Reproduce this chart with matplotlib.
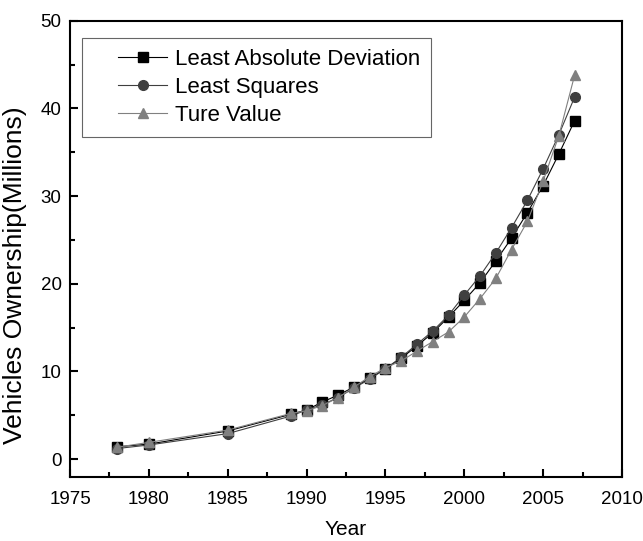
import matplotlib
matplotlib.use("Agg")
import matplotlib.pyplot as plt
from matplotlib.ticker import MultipleLocator
from matplotlib.legend_handler import HandlerLine2D

plt.rcParams['font.family'] = ['Liberation Sans', 'DejaVu Sans']

years = [1978, 1980, 1985, 1989, 1990, 1991, 1992, 1993, 1994, 1995, 1996,
         1997, 1998, 1999, 2000, 2001, 2002, 2003, 2004, 2005, 2006, 2007]
lad = [1.4, 1.7, 3.2, 5.1, 5.6, 6.5, 7.3, 8.2, 9.2, 10.3, 11.5,
       12.9, 14.4, 16.2, 18.1, 20.1, 22.6, 25.2, 28.1, 31.2, 34.8, 38.6]
ls = [1.2, 1.6, 2.9, 4.9, 5.6, 6.2, 7.0, 8.1, 9.1, 10.3, 11.6,
      13.1, 14.6, 16.4, 18.7, 20.9, 23.5, 26.4, 29.5, 33.1, 37.0, 41.3]
true = [1.35, 1.9, 3.3, 5.2, 5.5, 6.1, 7.0, 8.2, 9.4, 10.4, 11.2,
        12.3, 13.4, 14.5, 16.2, 18.3, 20.6, 23.9, 27.1, 31.7, 36.9, 43.8]

labels = ["Least Absolute Deviation", "Least Squares", "Ture Value"]

fig = plt.figure(figsize=(6.43, 5.41), dpi=100)
ax = fig.add_axes([0.1089, 0.1183, 0.8584, 0.8434])

ax.plot(years, lad, color='black', marker='s', markersize=6.5, linewidth=0.8,
        label=labels[0], zorder=3)
ax.plot(years, ls, color='#3f3f3f', marker='o', markersize=7, linewidth=0.8,
        label=labels[1], zorder=4)
ax.plot(years, true, color='#808080', marker='^', markersize=7.5, linewidth=0.8,
        label=labels[2], zorder=5)

ax.set_xlim(1975, 2010)
ax.set_ylim(-2.05, 50)
ax.xaxis.set_major_locator(MultipleLocator(5))
ax.xaxis.set_minor_locator(MultipleLocator(2.5))
ax.yaxis.set_major_locator(MultipleLocator(10))
ax.yaxis.set_minor_locator(MultipleLocator(5))
ax.tick_params(which='both', direction='in', top=False, right=False,
               width=1.5, labelsize=13.5)
ax.tick_params(which='major', length=6)
ax.tick_params(which='minor', length=3.5)
ax.tick_params(axis='x', pad=10)
ax.tick_params(axis='y', pad=6)
for s in ax.spines.values():
    s.set_linewidth(1.5)

ax.set_xlabel("Year", fontsize=15, labelpad=9)
ax.set_ylabel("Vehicles Ownership(Millions)", fontsize=19)
ax.yaxis.set_label_coords(-0.078, 0.443)

hmap = {h: HandlerLine2D(xpad=1.13) for h in ax.get_lines()}
leg = ax.legend(loc='upper left', bbox_to_anchor=(0.0217, 0.962), fontsize=16,
                frameon=True, fancybox=False, edgecolor='#404040',
                handlelength=3.33, handletextpad=0.36, borderpad=0.5,
                labelspacing=0.3, borderaxespad=0.0, handler_map=hmap)
leg.get_frame().set_linewidth(0.8)

fig.savefig("out.png", dpi=100)
